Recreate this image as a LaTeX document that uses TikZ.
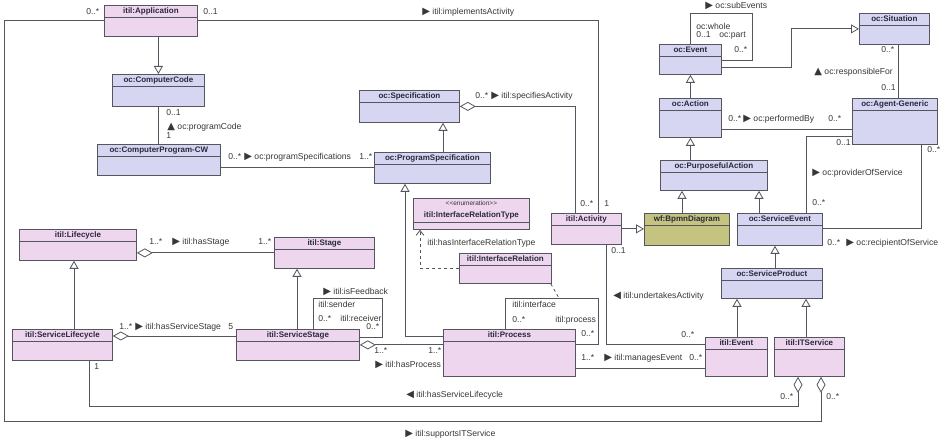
\documentclass[tikz,border=0pt]{standalone}
\usepackage{fontspec}
\setmainfont{Liberation Sans}
\newfontfamily\symfont{DejaVu Sans}
\usepackage{tikz}
\usetikzlibrary{arrows.meta}

\definecolor{itilpink}{RGB}{238,214,238}
\definecolor{ocblue}{RGB}{214,214,242}
\definecolor{wfolive}{RGB}{196,196,128}
\definecolor{umlline}{RGB}{85,85,95}
\definecolor{lbltext}{RGB}{55,55,55}
\definecolor{titletext}{RGB}{40,40,60}

\newcommand{\rtri}{{\symfont\fontsize{10}{10}\selectfont\char"25B6}}
\newcommand{\ltri}{{\symfont\fontsize{10}{10}\selectfont\char"25C0}}
\newcommand{\utri}{{\symfont\fontsize{10}{10}\selectfont\char"25B2}}

\tikzset{
  classbox/.style = {draw=umlline, line width=0.8pt, inner sep=0pt, anchor=north west},
  classline/.style = {draw=umlline, line width=0.8pt},
  pinkclass/.style = {fill=itilpink},
  blueclass/.style = {fill=ocblue},
  oliveclass/.style = {fill=wfolive},
  classtitle/.style = {font=\fontsize{8}{9}\selectfont\bfseries, text=titletext, inner sep=0pt, text height=6pt, text depth=1.5pt},
  stereo/.style = {font=\fontsize{6.5}{7}\selectfont, text=lbltext, inner sep=0pt},
  lbl/.style = {font=\fontsize{8.6}{9}\selectfont, text=lbltext, inner sep=0pt, anchor=west, text height=6pt, text depth=1.5pt},
  assoc/.style = {draw=umlline, line width=0.8pt},
  gen/.style = {assoc, -{Triangle[open, length=8pt, width=9pt]}},
  aggr/.style = {assoc, {Diamond[open, length=16pt, width=9pt]}-},
  dep/.style = {assoc, dashed, -{Straight Barb[length=5pt, width=8pt]}}
}

% name, fill, x, y, width, height, title
\newcommand{\umlclass}[7]{%
  \node[classbox, #2, minimum width=#5pt, minimum height=#6pt] (#1) at (#3,#4) {};
  \draw[classline] ([yshift=-12pt]#1.north west) -- ([yshift=-12pt]#1.north east);
  \node[classtitle] (#1-t) at ([yshift=-6pt]#1.north) {#7};
}

\begin{document}
\begin{tikzpicture}[x=1pt, y=-1pt]
\useasboundingbox (0,0) rectangle (948,438);

% classes
\umlclass{app}{pinkclass}{104}{5}{93}{31}{itil:Application}
\umlclass{cc}{blueclass}{112}{74}{92}{32}{oc:ComputerCode}
\umlclass{cpcw}{blueclass}{97}{144}{123}{31}{oc:ComputerProgram-CW}
\umlclass{spec}{blueclass}{359}{90}{100}{32}{oc:Specification}
\umlclass{pspec}{blueclass}{374}{152}{116}{31}{oc:ProgramSpecification}
\umlclass{ev}{blueclass}{659}{44}{62}{30}{oc:Event}
\umlclass{sit}{blueclass}{859}{13}{70}{31}{oc:Situation}
\umlclass{act}{blueclass}{659}{98}{62}{39}{oc:Action}
\umlclass{agent}{blueclass}{852}{98}{85}{46}{oc:Agent-Generic}
\umlclass{pact}{blueclass}{660}{160}{107}{30}{oc:PurposefulAction}
\umlclass{bpmn}{oliveclass}{644}{213}{85}{32}{wf:BpmnDiagram}
\umlclass{sev}{blueclass}{737}{213}{85}{32}{oc:ServiceEvent}
\umlclass{sprod}{blueclass}{721}{268}{101}{30}{oc:ServiceProduct}
\umlclass{iev}{pinkclass}{705}{337}{62}{39}{itil:Event}
\umlclass{its}{pinkclass}{774}{337}{70}{39}{itil:ITService}
\umlclass{activity}{pinkclass}{551}{213}{70}{31}{itil:Activity}
\umlclass{ir}{pinkclass}{459}{253}{92}{30}{itil:InterfaceRelation}
\umlclass{lc}{pinkclass}{19}{229}{117}{31}{itil:Lifecycle}
\umlclass{stage}{pinkclass}{274}{237}{100}{31}{itil:Stage}
\umlclass{slc}{pinkclass}{12}{329}{100}{31}{itil:ServiceLifecycle}
\umlclass{sstage}{pinkclass}{236}{329}{123}{31}{itil:ServiceStage}
\umlclass{proc}{pinkclass}{443}{329}{132}{47}{itil:Process}

% enumeration
\node[classbox, pinkclass, minimum width=116pt, minimum height=31pt] (irt) at (413,198) {};
\draw[classline] ([yshift=-24pt]irt.north west) -- ([yshift=-24pt]irt.north east);
\node[stereo] (irt-s) at ([yshift=-5pt]irt.north) {<\kern0pt<enumeration>\kern0pt>};
\node[classtitle] (irt-t) at ([yshift=-17pt]irt.north) {itil:InterfaceRelationType};

% Application is a ComputerCode
\draw[gen] (app.south -| cc.north) -- (cc.north);

% programCode
\draw[assoc] (cc.south) -- (cc.south |- cpcw.north)
  node[lbl] at (166,113) {0..1}
  node[lbl] at (166,136) {1}
  node[lbl] at (167,127) {\utri\ oc:programCode};

% programSpecifications
\draw[assoc] (pspec.west -| cpcw.east) -- (pspec.west)
  node[lbl] at (228,157) {0..*}
  node[lbl] at (244,157) {\rtri\ oc:programSpecifications}
  node[lbl] at (359,157) {1..*};

% ProgramSpecification is a Specification
\draw[gen] ([xshift=69pt]pspec.north west) -- ([xshift=69pt]pspec.north west |- spec.south);

% specifiesActivity
\draw[aggr] (spec.east) -| ([xshift=24pt]activity.north west)
  node[lbl] at (475,96) {0..*}
  node[lbl] at (491,96) {\rtri\ itil:specifiesActivity}
  node[lbl] at (580,204) {0..*};

% implementsActivity
\draw[assoc] (app.east) -| ([xshift=47pt]activity.north west)
  node[lbl] at (203,12) {0..1}
  node[lbl] at (422,12) {\rtri\ itil:implementsActivity}
  node[lbl] at (604,204) {1};

% supportsITService
\coordinate (sw) at (4,421);
\draw[aggr] ([xshift=47pt]its.south west) |- (sw) |- (app.west)
  node[lbl] at (86,12) {0..*}
  node[lbl] at (826,397) {0..*}
  node[lbl] at (405,434) {\rtri\ itil:supportsITService};

% hasServiceLifecycle
\draw[aggr] ([xshift=24pt]its.south west) -- ++(0,30) -| ([xshift=77pt]slc.south west)
  node[lbl] at (94,367) {1}
  node[lbl] at (780,397) {0..*}
  node[lbl] at (406,395) {\ltri\ itil:hasServiceLifecycle};

% hasStage
\draw[aggr] (stage.west -| lc.east) -- (stage.west)
  node[lbl] at (149,242) {1..*}
  node[lbl] at (172,242) {\rtri\ itil:hasStage}
  node[lbl] at (258,242) {1..*};

% ServiceLifecycle is a Lifecycle, ServiceStage is a Stage
\draw[gen] ([xshift=62pt]slc.north west) -- ([xshift=62pt]slc.north west |- lc.south);
\draw[gen] ([xshift=61pt]sstage.north west) -- ([xshift=61pt]sstage.north west |- stage.south);

% hasServiceStage
\draw[aggr] ([yshift=-7pt]slc.north east) -- ([yshift=-7pt]slc.north east -| sstage.west)
  node[lbl] at (119,327) {1..*}
  node[lbl] at (135,327) {\rtri\ itil:hasServiceStage}
  node[lbl] at (228,327) {5};

% isFeedback
\draw[assoc] ([xshift=77pt]sstage.north west) -- ++(0,-31) -- ++(69,0) |- ([yshift=-8pt]sstage.north east)
  node[lbl] at (323,292) {\rtri\ itil:isFeedback}
  node[lbl] at (318,305) {itil:sender}
  node[lbl] at (318,319) {0..*}
  node[lbl] at (340,319) {itil:receiver}
  node[lbl] at (366,327) {0..*};

% hasProcess
\draw[aggr] (sstage.east) -- (sstage.east -| proc.west)
  node[lbl] at (374,351) {1..*}
  node[lbl] at (428,351) {1..*}
  node[lbl] at (375,365) {\rtri\ itil:hasProcess};

% Process is a ProgramSpecification
\draw[gen] ([yshift=-7pt]proc.north west) -| ([xshift=31pt]pspec.south west);

% hasInterfaceRelationType
\draw[dep] (ir.west) -| ([xshift=7pt]irt.south west)
  node[lbl] at (427,243) {itil:hasInterfaceRelationType};

% interface
\draw[assoc] ([xshift=62pt]proc.north west) -- ++(0,-31) -- coordinate[pos=0.58] (ifc) ++(93,0) |- ([yshift=-15pt]proc.north east)
  node[lbl] at (512,305) {itil:interface}
  node[lbl] at (512,320) {0..*}
  node[lbl] at (555,320) {itil:process}
  node[lbl] at (581,334) {0..*};
\draw[assoc, dashed] ([xshift=-1pt]ir.south east) -- (ifc);

% Activity is a BpmnDiagram
\draw[gen] (activity.east) -- (activity.east -| bpmn.west);

% undertakesActivity
\draw[assoc] ([xshift=55pt]activity.south west) |- ([yshift=-7pt]iev.north west)
  node[lbl] at (611,251) {0..1}
  node[lbl] at (613,296) {\ltri\ itil:undertakesActivity}
  node[lbl] at (681,335) {0..*};

% managesEvent
\draw[assoc] ([yshift=-31pt]iev.north west -| proc.east) -- ([yshift=-31pt]iev.north west)
  node[lbl] at (581,358) {1..*}
  node[lbl] at (604,358) {\rtri\ itil:managesEvent}
  node[lbl] at (689,358) {0..*};

% BpmnDiagram, ServiceEvent are PurposefulActions
\draw[gen] ([xshift=38pt]bpmn.north west) -- ([xshift=38pt]bpmn.north west |- pact.south);
\draw[gen] ([xshift=22pt]sev.north west) -- ([xshift=22pt]sev.north west |- pact.south);
\draw[gen] (act.south |- pact.north) -- (act.south);
\draw[gen] (act.north) -- (ev.south);

% subEvents
\draw[assoc] (ev.north) -- ++(0,-31) -- ++(62,0) |- ([yshift=-16pt]ev.north east)
  node[lbl] at (705,6) {\rtri\ oc:subEvents}
  node[lbl] at (696,27) {oc:whole}
  node[lbl] at (696,35) {0..1}
  node[lbl] at (719,35) {oc:part}
  node[lbl] at (734,50) {0..*};

% Event is a Situation
\draw[gen] ([yshift=-23pt]ev.north east) -- ++(70,0) |- (sit.west);

% responsibleFor
\draw[assoc] ([xshift=39pt]sit.south west) -- ([xshift=39pt]sit.south west |- agent.north)
  node[lbl] at (881,50) {0..*}
  node[lbl] at (814,72) {\utri\ oc:responsibleFor}
  node[lbl] at (881,88) {0..1};

% performedBy
\draw[assoc] ([yshift=-31pt]act.north east) -- ([yshift=-31pt]act.north east -| agent.west)
  node[lbl] at (728,119) {0..*}
  node[lbl] at (743,119) {\rtri\ oc:performedBy}
  node[lbl] at (828,119) {0..*};

% providerOfService
\draw[assoc] ([yshift=-38pt]agent.north west) -| ([xshift=69pt]sev.north west)
  node[lbl] at (836,143) {0..1}
  node[lbl] at (812,173) {\rtri\ oc:providerOfService}
  node[lbl] at (812,203) {0..*};

% recipientOfService
\draw[assoc] ([xshift=69pt]agent.south west) |- ([yshift=-15pt]sev.north east)
  node[lbl] at (927,150) {0..*}
  node[lbl] at (827,243) {0..*}
  node[lbl] at (846,243) {\rtri\ oc:recipientOfService};

% ServiceProduct is a ServiceEvent, Event and ITService are ServiceProducts
\draw[gen] ([xshift=54pt]sprod.north west) -- ([xshift=54pt]sprod.north west |- sev.south);
\draw[gen] ([xshift=32pt]iev.north west) -- ([xshift=32pt]iev.north west |- sprod.south);
\draw[gen] ([xshift=32pt]its.north west) -- ([xshift=32pt]its.north west |- sprod.south);
\end{tikzpicture}
\end{document}
